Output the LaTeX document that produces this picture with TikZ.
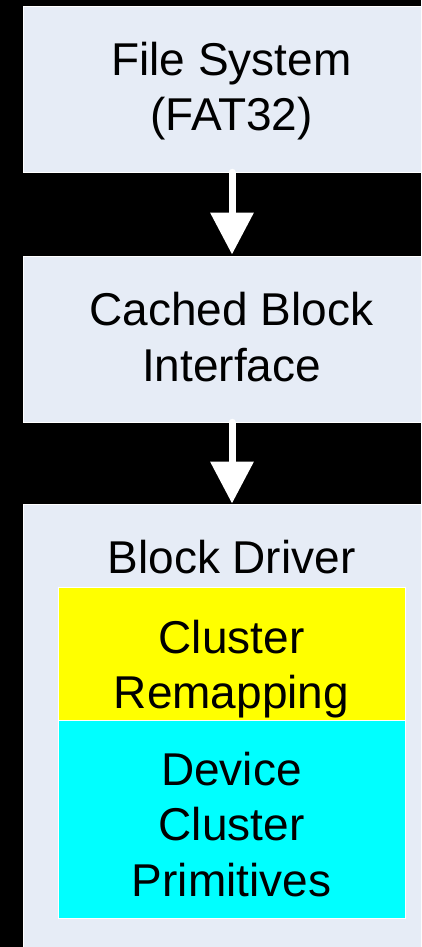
\documentclass[tikz,border=0pt]{standalone}
\usepackage{fontspec}
\setmainfont{Liberation Sans}
\usetikzlibrary{arrows.meta}
\definecolor{boxfill}{RGB}{230,236,246}
\definecolor{remapyellow}{RGB}{255,255,0}
\definecolor{devcyan}{RGB}{0,255,255}
\begin{document}
\begin{tikzpicture}[x=1pt,y=-1pt,
  layer/.style={draw=white,line width=0.6pt,fill=boxfill,minimum width=418pt,inner sep=0pt},
  inner/.style={draw=white,line width=0.6pt,minimum width=347pt,inner sep=0pt},
  label/.style={anchor=base,inner sep=0pt,font=\fontsize{46}{55}\selectfont},
  flow/.style={draw=white,line width=7pt,line cap=round,-{Triangle[width=42pt,length=42pt]}}]
\useasboundingbox (0,0) rectangle (421,947);
\fill[black] (0,0) rectangle (421,947);
\begin{scope}
\clip (0,0) rectangle (421,947);
\node[layer,minimum height=166pt] (fs) at (232,89) {};
\node[layer,minimum height=166pt] (cb) at (232,339) {};
\node[layer,minimum height=486pt] (bd) at (232,747) {};
\node[inner,fill=remapyellow,minimum height=133pt] (cr) at (231.5,653.5) {};
\node[inner,fill=devcyan,minimum height=198pt] (dc) at (231.5,819) {};
\end{scope}
\node[label] (fs1) at (231.5,76) {File System};
\node[label] (fs2) at (231.5,131) {(FAT32)};
\node[label] (cb1) at (231.5,325) {Cached Block};
\node[label] (cb2) at (231.5,381) {Interface};
\node[label] (bd1) at (231.5,573) {Block Driver};
\node[label] (cr1) at (231.5,653) {Cluster};
\node[label] (cr2) at (231.5,708) {Remapping};
\node[label] (dc1) at (231.5,785) {Device};
\node[label] (dc2) at (231.5,840) {Cluster};
\node[label] (dc3) at (231.5,896) {Primitives};
\coordinate (a1e) at (232,254.5);
\coordinate (a2e) at (232,503.5);
\draw[flow] (fs.south) -- (a1e);
\draw[flow] (cb.south) -- (a2e);
\end{tikzpicture}
\end{document}
